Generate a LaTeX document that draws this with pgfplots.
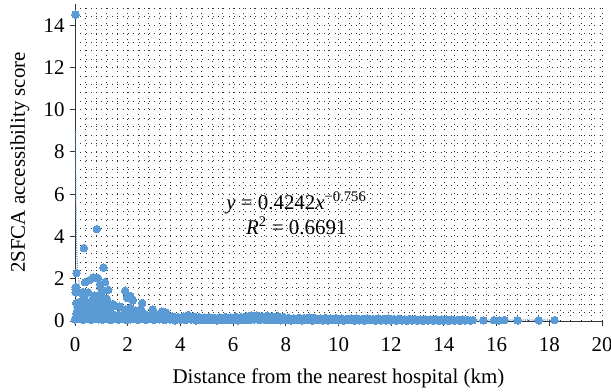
\documentclass[border=0pt]{standalone}
\usepackage{pgfplots}
\pgfplotsset{compat=1.18}
\usepackage{fontspec}
\setmainfont{Liberation Serif}
\definecolor{ptblue}{RGB}{91,155,213}
\begin{document}
\begin{tikzpicture}
\begin{axis}[
 scale only axis, width=527bp, height=317bp,
 xmin=0, xmax=20, ymin=0, ymax=15,
 xtick={0,2,...,20}, ytick={0,2,...,14},
 minor xtick={0.4,0.8,...,19.7},
 minor ytick={0.4,0.8,...,14.9},
 grid=both,
 major grid style={black!80, line width=0.6bp, dash pattern=on 0.7bp off 4.6bp},
 minor grid style={black!80, line width=0.6bp, dash pattern=on 0.7bp off 4.6bp},
 axis x line*=bottom, axis y line*=left,
 axis line style={-, black!80, line width=0.9bp},
 tick align=outside, major tick length=5bp, minor tick length=0pt,
 major tick style={black!80, line width=0.9bp},
 ticklabel style={font=\fontsize{21}{21}\selectfont},
 xticklabel style={yshift=-8bp},
 yticklabel style={xshift=-2bp},
 /pgf/number format/assume math mode=true,
 xlabel={Distance from the nearest hospital (km)},
 ylabel={2SFCA accessibility score},
 label style={font=\fontsize{21}{21}\selectfont},
 xlabel style={at={(rel axis cs:0.5,0)}, anchor=base, yshift=-62bp},
 ylabel style={at={(rel axis cs:0,0.5)}, anchor=base, yshift=50bp},
 clip=false,
]
\addplot[ptblue, only marks, mark=*, mark size=3.8bp, mark options={fill=ptblue, draw=ptblue, line width=0pt}] coordinates {
(0,0.08)(0.15,0.12)(0.3,0.06)(0.45,0.1)(0.6,0.05)(0.75,0.12)(0.9,0.08)(1.05,0.06)(1.2,0.1)(1.35,0.05)(1.5,0.09)(1.65,0.06)(1.8,0.1)(1.95,0.05)(2.1,0.08)(2.25,0.12)(2.4,0.06)(2.55,0.09)(2.7,0.05)(2.85,0.1)
(0.05,0.35)(0.25,0.4)(0.45,0.3)(0.65,0.42)(0.85,0.35)(1.05,0.3)(1.25,0.4)(1.45,0.32)(1.65,0.28)(1.85,0.35)(2.05,0.3)(2.25,0.38)(2.45,0.28)(2.65,0.32)(2.85,0.25)
(0.1,0.65)(0.3,0.7)(0.5,0.6)(0.7,0.72)(0.9,0.62)(1.1,0.7)(1.3,0.6)(1.5,0.72)(1.7,0.68)(1.9,0.55)(2.1,0.62)(2.3,0.5)(2.5,0.55)(2.95,0.55)
(0.05,0.85)(0.25,0.95)(0.45,0.9)(0.65,1.0)(0.85,0.88)(1.05,0.98)(1.25,0.9)(1.45,0.8)(1.2,1.05)
(0.3,1.25)(0.5,1.35)(0.75,1.2)(1.0,1.3)(0.85,1.14)
(0.02,14.5)(0.34,3.45)(0.83,4.35)(1.08,2.52)(0.06,2.27)(0.03,1.5)(0.03,1.6)(0.03,1.35)(0.38,1.84)(0.57,1.94)(0.87,2.03)(0.7,2.05)(1.14,1.84)(0.97,1.6)(1.26,1.47)(1.9,1.43)(1.97,1.1)(2.2,0.99)(0.3,1.37)(0.35,1.23)(2.55,0.85)(2.96,0.52)(2.1,1.18)(0.95,1.75)(3.3,0.45)(3.45,0.4)
(3.0,0.05)(3.2,0.08)(3.4,0.04)(3.6,0.07)(3.8,0.03)(4.0,0.06)(4.2,0.04)(4.4,0.07)(4.6,0.03)(4.8,0.05)(5.0,0.04)(5.2,0.06)(5.4,0.03)(5.6,0.05)(5.8,0.04)(6.0,0.06)(6.2,0.03)(6.4,0.05)(6.6,0.04)(6.8,0.07)(7.0,0.05)(7.2,0.06)(7.4,0.04)(7.6,0.05)(7.8,0.03)(8.0,0.04)(8.2,0.02)(8.4,0.04)(8.6,0.03)(8.8,0.05)(9.0,0.02)(9.2,0.04)(9.4,0.03)(9.6,0.02)(9.8,0.04)(10.0,0.03)(10.2,0.02)(10.4,0.04)(10.6,0.02)(10.8,0.03)(11.0,0.02)(11.2,0.04)(11.4,0.02)(11.6,0.03)(11.8,0.02)(12.0,0.03)(12.2,0.02)(12.4,0.03)(12.6,0.01)(12.8,0.03)(13.0,0.02)(13.2,0.01)(13.4,0.03)(13.6,0.02)(13.8,0.01)(14.0,0.02)(14.2,0.01)(14.4,0.02)(14.6,0.01)(14.8,0.02)(15.0,0.02)
(3.1,0.30)(3.3,0.35)(3.5,0.28)(3.7,0.22)(3.9,0.18)(4.1,0.2)(4.3,0.28)(4.5,0.22)(4.7,0.18)(4.9,0.16)(5.1,0.18)(5.3,0.15)(5.5,0.17)(5.7,0.19)(5.9,0.16)(6.1,0.2)(6.3,0.18)(6.5,0.22)(6.7,0.27)(6.9,0.26)(7.1,0.22)(7.3,0.25)(7.5,0.2)(7.7,0.23)(7.9,0.19)(8.1,0.14)(8.3,0.12)(8.5,0.15)(8.7,0.13)(8.9,0.16)(9.1,0.14)(9.3,0.12)(9.5,0.14)(9.7,0.11)(9.9,0.13)(10.1,0.12)(10.3,0.1)(10.5,0.12)(10.7,0.11)(10.9,0.1)(11.1,0.12)(11.3,0.09)(11.5,0.11)(11.7,0.1)(11.9,0.12)(12.1,0.09)(12.3,0.1)(12.5,0.08)(12.7,0.1)(12.9,0.09)(13.1,0.07)(13.3,0.08)(13.5,0.06)(13.7,0.08)(13.9,0.07)(14.1,0.06)(14.3,0.07)(14.5,0.05)(14.7,0.06)(14.9,0.05)
(15.1,0.04)(15.5,0.03)(15.9,0.04)(16.1,0.03)(16.3,0.04)(16.8,0.03)(17.6,0.03)(18.2,0.04)
};
\addplot[ptblue!90!black, line width=1.2bp, dash pattern=on 1bp off 1.2bp] coordinates {
(0.0176,9.0)(0.02,8.17)(0.025,6.90)(0.03,6.01)(0.04,4.835)(0.05,4.085)(0.07,3.167)(0.1,2.419)(0.15,1.780)(0.2,1.432)(0.3,1.054)(0.5,0.716)(0.75,0.527)(1,0.424)(1.5,0.312)(2,0.251)(3,0.185)(4,0.149)(6,0.110)(8,0.088)(10,0.074)(12,0.065)(14,0.058)(16,0.052)(18.3,0.047)
};
\node[align=center, font=\fontsize{21}{25}\selectfont] at (axis cs:8.4,5.1) {\textit{y} = 0.4242\textit{x}\textsuperscript{−0.756}\\\textit{R}\textsuperscript{2} = 0.6691};
\end{axis}
\pgfresetboundingbox
\path[use as bounding box] (-75bp,-71bp) rectangle (536bp,321bp);
\end{tikzpicture}
\end{document}
